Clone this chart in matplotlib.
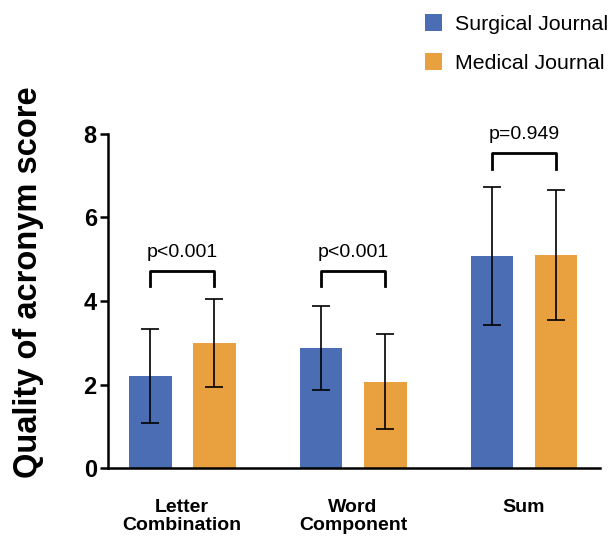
import matplotlib
matplotlib.use("Agg")
import matplotlib.pyplot as plt
import numpy as np

plt.rcParams['font.family'] = ['Liberation Sans', 'DejaVu Sans']

categories = ["Letter\nCombination", "Word\nComponent", "Sum"]
surgical_mean = [2.2, 2.88, 5.08]
surgical_sd = [1.13, 1.0, 1.65]
medical_mean = [3.0, 2.07, 5.1]
medical_sd = [1.05, 1.14, 1.55]
p_labels = ["p<0.001", "p<0.001", "p=0.949"]
bracket_y = [4.73, 4.73, 7.54]
series_names = ["Surgical Journal", "Medical Journal"]

blue = "#4A6DB4"
orange = "#E9A03E"

fig = plt.figure(figsize=(6.13, 5.38), dpi=100)
ax = fig.add_axes([0.176, 0.130, 0.803, 0.621])

x = np.arange(len(categories))
w = 0.25
off = 0.1875
ekw = dict(elinewidth=1.2, capthick=1.2, ecolor="black")
ax.bar(x - off, surgical_mean, w, color=blue, yerr=surgical_sd, capsize=6.7, error_kw=ekw, label=series_names[0])
ax.bar(x + off, medical_mean, w, color=orange, yerr=medical_sd, capsize=6.7, error_kw=ekw, label=series_names[1])

for i in range(len(categories)):
    x1, x2 = x[i] - off, x[i] + off
    yb = bracket_y[i]
    ax.plot([x1, x1, x2, x2], [yb - 0.38, yb, yb, yb - 0.38], color="black", lw=2.0, clip_on=False)
    ax.text(x[i], yb + 0.24, p_labels[i], ha="center", va="bottom", fontsize=14, clip_on=False)

ax.set_xlim(-0.435, 2.445)
ax.set_ylim(0, 8)
ax.set_yticks([0, 2, 4, 6, 8])
ax.set_xticks(x)
ax.set_xticklabels(categories, fontsize=14, fontweight="bold", linespacing=1.1)
ax.tick_params(axis="x", length=0, pad=22)
ax.tick_params(axis="y", length=6, width=1.8, labelsize=17, pad=2)
for lab in ax.get_yticklabels():
    lab.set_fontweight("bold")
for s in ["top", "right"]:
    ax.spines[s].set_visible(False)
for s in ["left", "bottom"]:
    ax.spines[s].set_linewidth(1.8)

fig.text(29 / 613, 1 - 282 / 538, "Quality of acronym score", rotation=90,
         ha="center", va="center", fontsize=23.5, fontweight="bold")

leg = fig.legend(loc="upper right", bbox_to_anchor=(1.023, 1.009), frameon=False, fontsize=15.4,
                 handlelength=0.8, handleheight=0.8, handletextpad=0.6, labelspacing=0.9)

fig.savefig("out.png", dpi=100)
